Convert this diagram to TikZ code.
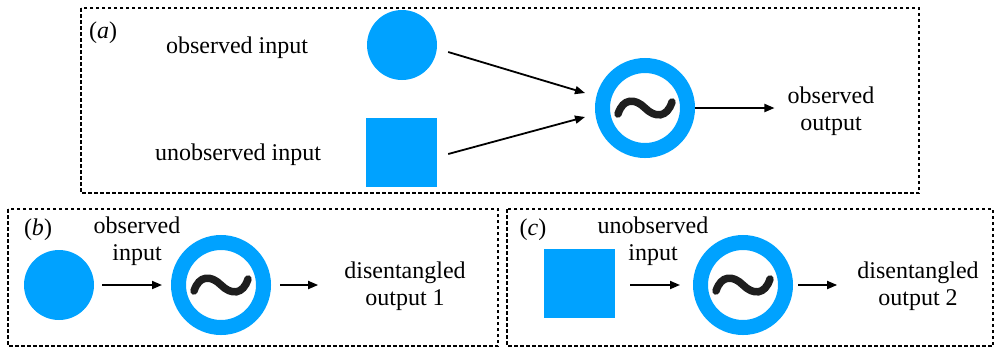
\documentclass[tikz,border=0pt]{standalone}
\usepackage{fontspec}
\setmainfont{Liberation Serif}
\usetikzlibrary{arrows.meta,calc}
\definecolor{cblue}{RGB}{0,162,255}
\definecolor{tildeink}{RGB}{30,30,30}
\begin{document}
\begin{tikzpicture}[x=1pt,y=-1pt,
  panel/.style={draw, line width=1.5pt, dash pattern=on 3.5pt off 2.5pt},
  txt/.style={font=\fontsize{24}{27}\selectfont, align=center, inner sep=0pt},
  lab/.style={font=\fontsize{24}{27}\selectfont, inner sep=0pt},
  disk/.style={circle, fill=cblue, minimum size=70pt, inner sep=0pt},
  sq/.style={rectangle, fill=cblue, minimum width=71pt, minimum height=69pt, inner sep=0pt},
  ring/.style={circle, draw=cblue, line width=15pt, minimum size=85pt, inner sep=0pt,
    path picture={\draw[draw=tildeink, line width=7.5pt, line cap=round, shift={(path picture bounding box.center)}]
      (-27,6) .. controls (-22,-10) and (-10,-10) .. (0,0) .. controls (10,10) and (22,10) .. (27,-6);}},
  arr/.style={-{Triangle[length=10pt,width=8pt]}, line width=1.8pt},
]
\useasboundingbox (0,0) rectangle (995,349);
\draw[panel] (81,8) rectangle (919,193);
\draw[panel] (8,209) rectangle (498,346);
\draw[panel] (507,209) rectangle (993,346);

% (a)
\node[lab] (la) at (103,33) {(\textit{a})};
\node[txt] (oi) at (237,48) {observed input};
\node[txt] (ui) at (238,155) {unobserved input};
\node[disk] (c1) at (402,45) {};
\node[sq] (s1) at (401.5,152.5) {};
\node[ring] (r1) at (645,108) {};
\node[txt] (oo) at (831,111) {observed\\output};
\draw[arr] ($(c1.east)+(11,7)$) -- ($(r1.west)+(-10,-15)$);
\draw[arr] ($(s1.east)+(11,1.5)$) -- ($(r1.west)+(-10,9)$);
\draw[arr, shorten >=13pt] (r1.east) -- (r1.east -| oo.west);

% (b)
\node[lab] (lb) at (38,230) {(\textit{b})};
\node[disk] (c2) at (59,285) {};
\node[ring] (r2) at (221,285) {};
\node[txt] (oi2) at (137,241) {observed\\input};
\node[txt] (do1) at (405,286) {disentangled\\output 1};
\draw[arr, shorten <=8pt, shorten >=9pt] (c2.east) -- (r2.west);
\draw[arr, shorten <=9pt, shorten >=26pt] (r2.east) -- (r2.east -| do1.west);

% (c)
\node[lab] (lc) at (533,230) {(\textit{c})};
\node[sq] (s2) at (579.5,283) {};
\node[ring] (r3) at (743,285) {};
\node[txt] (ui2) at (653,241) {unobserved\\input};
\node[txt] (do2) at (918,286) {disentangled\\output 2};
\draw[arr, shorten <=15pt, shorten >=13pt] (s2.east |- r3) -- (r3.west);
\draw[arr, shorten <=5pt, shorten >=20pt] (r3.east) -- (r3.east -| do2.west);
\end{tikzpicture}
\end{document}
